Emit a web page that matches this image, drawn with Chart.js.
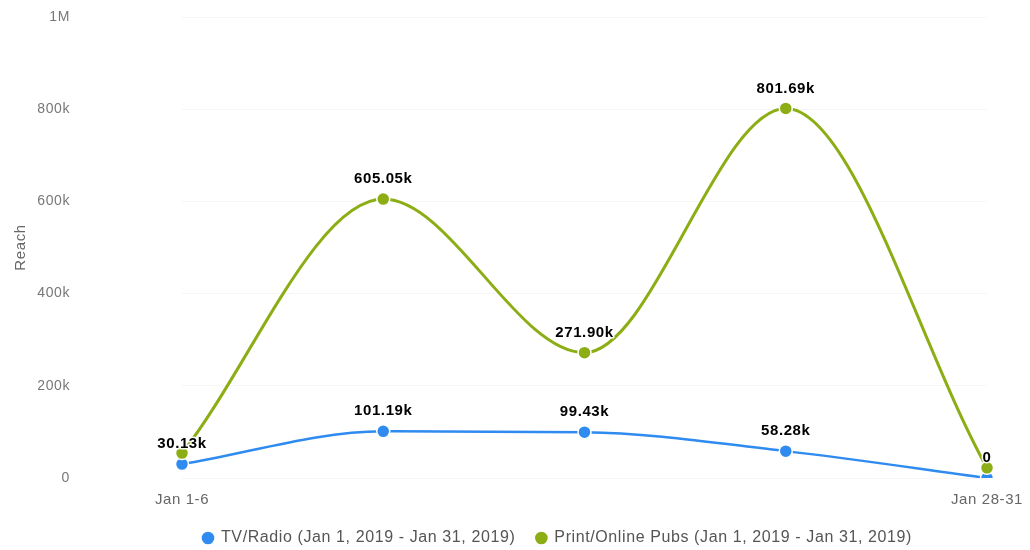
<!DOCTYPE html>
<html>
<head>
<meta charset="utf-8">
<script src="https://cdn.jsdelivr.net/npm/chart.js@4/dist/chart.umd.min.js"></script>
<style>
  html, body { margin: 0; padding: 0; background: #fff; }
  #wrap { width: 1030px; height: 550px; }
</style>
</head>
<body>
<div id="wrap"><canvas id="reachChart" width="1030" height="550"></canvas></div>
<script>
// Weekly reach per channel
const weeks = ['Jan 1-6', 'Jan 7-13', 'Jan 14-20', 'Jan 21-27', 'Jan 28-31'];
const tvRadio = [30130, 101190, 99430, 58280, 0];
const printOnline = [54000, 605050, 271900, 801690, 22000];
// which points get a value label (overlapping ones are hidden)
const tvRadioLabels = [true, true, true, true, true];
const printOnlineLabels = [false, true, true, true, false];
const yTicks = [0, 200000, 400000, 600000, 800000, 1000000];

const BLUE = '#2f8bef';
const GREEN = '#8cae14';
const FONT = '"Liberation Sans", Arial, sans-serif';

function fmtK(v) {
  if (v === 0) return '0';
  if (v >= 1000000) return (v / 1000000) + 'M';
  return (v / 1000).toFixed(2) + 'k';
}

function fmtTick(v) {
  if (v === 0) return '0';
  if (v >= 1000000) return (v / 1000000) + 'M';
  return (v / 1000) + 'k';
}

// slightly wider text spacing everywhere
const spacing = {
  id: 'spacing',
  beforeLayout(chart) { chart.ctx.letterSpacing = '0.6px'; },
  beforeDraw(chart) { chart.ctx.letterSpacing = '0.6px'; }
};

// draws bold value labels above points
const valueLabels = {
  id: 'valueLabels',
  afterDatasetsDraw(chart) {
    const ctx = chart.ctx;
    ctx.save();
    ctx.font = 'bold 15px ' + FONT;
    ctx.textAlign = 'center';
    ctx.textBaseline = 'middle';
    ctx.lineJoin = 'round';
    chart.data.datasets.forEach((ds, i) => {
      const meta = chart.getDatasetMeta(i);
      meta.data.forEach((pt, j) => {
        if (!ds.showLabel[j]) return;
        const txt = fmtK(ds.data[j]);
        ctx.strokeStyle = 'rgba(255,255,255,0.9)';
        ctx.lineWidth = 3;
        ctx.strokeText(txt, pt.x, pt.y - 20);
        ctx.fillStyle = '#000';
        ctx.fillText(txt, pt.x, pt.y - 20);
      });
    });
    ctx.restore();
  }
};

new Chart(document.getElementById('reachChart'), {
  type: 'line',
  data: {
    labels: weeks,
    datasets: [
      {
        label: 'TV/Radio (Jan 1, 2019 - Jan 31, 2019)',
        data: tvRadio,
        showLabel: tvRadioLabels,
        borderColor: BLUE,
        backgroundColor: BLUE,
        borderWidth: 2.5,
        pointRadius: 6.5,
        pointBorderColor: '#fff',
        pointBorderWidth: 1.5,
        cubicInterpolationMode: 'monotone',
        order: 1
      },
      {
        label: 'Print/Online Pubs (Jan 1, 2019 - Jan 31, 2019)',
        data: printOnline,
        showLabel: printOnlineLabels,
        borderColor: GREEN,
        backgroundColor: GREEN,
        borderWidth: 3,
        pointRadius: 6.5,
        pointBorderColor: '#fff',
        pointBorderWidth: 1.5,
        cubicInterpolationMode: 'monotone',
        order: 0
      }
    ]
  },
  options: {
    responsive: false,
    animation: false,
    layout: { padding: { top: 17, left: 8, right: 43, bottom: -6 } },
    plugins: {
      tooltip: { enabled: false },
      legend: {
        position: 'bottom',
        fullSize: false,
        align: 'start',
        labels: {
          usePointStyle: true,
          pointStyle: 'circle',
          boxWidth: 10,
          boxHeight: 10,
          padding: 21,
          color: '#555',
          font: { family: FONT, size: 16 },
          sort: (a, b) => a.datasetIndex - b.datasetIndex
        }
      }
    },
    scales: {
      x: {
        offset: false,
        grid: { display: false, drawTicks: false },
        border: { display: false },
        afterFit: axis => {
          axis.height = 31;
          axis.paddingLeft = 0;
          axis.paddingRight = 0;
        },
        ticks: {
          color: '#666',
          padding: 13,
          maxRotation: 0,
          autoSkip: false,
          font: { family: FONT, size: 15 },
          callback: function (val, idx) {
            return (idx === 0 || idx === weeks.length - 1) ? weeks[idx] : '';
          }
        }
      },
      y: {
        min: 0,
        max: 1000000,
        afterBuildTicks: axis => { axis.ticks = yTicks.map(v => ({ value: v })); },
        afterFit: axis => {
          axis.width = 174;
          axis.paddingTop = 8;
          axis.paddingBottom = 8;
        },
        grid: { color: '#f6f6f6', drawTicks: false },
        border: { display: false },
        title: {
          display: true,
          text: 'Reach',
          color: '#666',
          font: { family: FONT, size: 15 }
        },
        ticks: {
          color: '#777',
          padding: 112,
          font: { family: FONT, size: 14 },
          callback: v => fmtTick(v)
        }
      }
    }
  },
  plugins: [spacing, valueLabels]
});
</script>
</body>
</html>
